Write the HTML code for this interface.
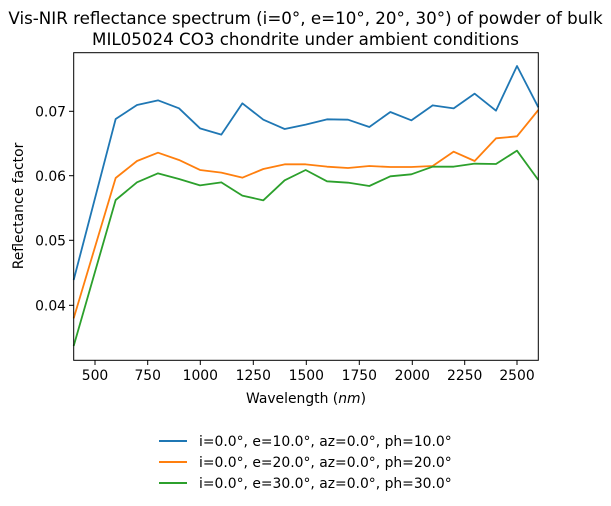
<!DOCTYPE html>
<html><head><meta charset="utf-8"><style>
html,body{margin:0;padding:0;background:#fff;}
svg{display:block;font-family:"DejaVu Sans","Liberation Sans",sans-serif;}
</style></head><body>
<svg width="611" height="506" viewBox="0 0 611 506" xmlns="http://www.w3.org/2000/svg">
<rect width="611" height="506" fill="#fff"/>
<text x="305.5" y="24" font-size="16.7" text-anchor="middle">Vis-NIR reflectance spectrum (i=0°, e=10°, 20°, 30°) of powder of bulk</text>
<text x="305.5" y="45" font-size="16.7" text-anchor="middle">MIL05024 CO3 chondrite under ambient conditions</text>
<g transform="translate(60,50) scale(0.33333)" fill="none" stroke-width="5.4" stroke-linejoin="round">
<polyline stroke="#1f77b4" points="41,690 167,207 231,165 294,151 357,175 420,235 484,254 547,160 610,209 674,237 737,224 801,208 864,209 928,231 991,186 1054,211 1118,166 1181,175 1244,131 1308,182 1371,48 1435,172"/>
<polyline stroke="#ff7f0e" points="41,805 167,384 231,333 294,308 357,330 420,360 484,368 547,383 610,357 674,343 737,343 801,350 864,354 928,348 991,351 1054,351 1118,348 1181,305 1244,333 1308,265 1371,259 1435,180"/>
<polyline stroke="#2ca02c" points="41,888 167,450 231,397 294,370 357,387 420,406 484,397 547,437 610,451 674,391 737,360 801,394 864,398 928,408 991,379 1054,373 1118,350 1181,350 1244,341 1308,342 1371,302 1435,390"/>
</g>
<rect x="73.7" y="52.7" width="464.6" height="307.6" fill="none" stroke="#000" stroke-width="1"/>
<g stroke="#000" stroke-width="1">
<line x1="95" y1="360.3" x2="95" y2="365"/><line x1="147.7" y1="360.3" x2="147.7" y2="365"/>
<line x1="200.3" y1="360.3" x2="200.3" y2="365"/><line x1="253.3" y1="360.3" x2="253.3" y2="365"/>
<line x1="306.3" y1="360.3" x2="306.3" y2="365"/><line x1="359.3" y1="360.3" x2="359.3" y2="365"/>
<line x1="412.3" y1="360.3" x2="412.3" y2="365"/><line x1="464.7" y1="360.3" x2="464.7" y2="365"/>
<line x1="517" y1="360.3" x2="517" y2="365"/>
<line x1="69" y1="305.3" x2="73.7" y2="305.3"/><line x1="69" y1="240.3" x2="73.7" y2="240.3"/>
<line x1="69" y1="175.7" x2="73.7" y2="175.7"/><line x1="69" y1="111.3" x2="73.7" y2="111.3"/>
</g>
<g font-size="13.9" text-anchor="middle">
<text x="95" y="380">500</text><text x="147.7" y="380">750</text><text x="200.3" y="380">1000</text>
<text x="253.3" y="380">1250</text><text x="306.3" y="380">1500</text><text x="359.3" y="380">1750</text>
<text x="412.3" y="380">2000</text><text x="464.7" y="380">2250</text><text x="517" y="380">2500</text>
</g>
<g font-size="13.9" text-anchor="end">
<text x="66" y="310.5">0.04</text><text x="66" y="245.5">0.05</text><text x="66" y="181">0.06</text><text x="66" y="116.5">0.07</text>
</g>
<text x="306" y="403" font-size="13.9" text-anchor="middle">Wavelength (<tspan font-style="italic">nm</tspan>)</text>
<text transform="translate(23,206) rotate(-90)" font-size="13.9" text-anchor="middle">Reflectance factor</text>
<g stroke-width="2">
<line x1="159" y1="441" x2="187" y2="441" stroke="#1f77b4"/>
<line x1="159" y1="462" x2="187" y2="462" stroke="#ff7f0e"/>
<line x1="159" y1="483" x2="187" y2="483" stroke="#2ca02c"/>
</g>
<g font-size="13.9">
<text x="199" y="446">i=0.0°, e=10.0°, az=0.0°, ph=10.0°</text>
<text x="199" y="467">i=0.0°, e=20.0°, az=0.0°, ph=20.0°</text>
<text x="199" y="488">i=0.0°, e=30.0°, az=0.0°, ph=30.0°</text>
</g>
</svg>
</body></html>
